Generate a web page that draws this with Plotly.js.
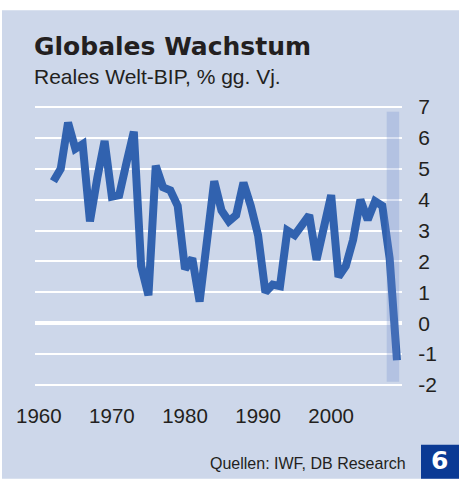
<!DOCTYPE html>
<html>
<head>
<meta charset="utf-8">
<script src="https://cdn.plot.ly/plotly-3.0.1.min.js"></script>
<style>
html,body{margin:0;padding:0;background:#fff;}
#chart{width:459px;height:479px;}
</style>
</head>
<body>
<div id="chart"></div>
<script>
// Data
const years = [1962,1963,1964,1965,1966,1967,1968,1969,1970,1971,1972,1973,1974,1975,1976,1977,1978,1979,1980,1981,1982,1983,1984,1985,1986,1987,1988,1989,1990,1991,1992,1993,1994,1995,1996,1997,1998,1999,2000,2001,2002,2003,2004,2005,2006,2007,2008,2009];
const growth = [4.6,5.0,6.5,5.65,5.8,3.3,4.7,5.9,4.1,4.15,5.2,6.2,1.85,0.9,5.1,4.4,4.3,3.8,1.75,2.1,0.7,2.7,4.6,3.65,3.3,3.5,4.55,3.8,2.85,1.0,1.25,1.2,3.0,2.85,3.2,3.5,2.05,3.1,4.15,1.5,1.85,2.7,4.0,3.35,3.95,3.8,2.1,-1.2];
const xTickVals = [1960,1970,1980,1990,2000];
const xTickText = ['1960','1970','1980','1990','2000'];
const yTickVals = [-2,-1,0,1,2,3,4,5,6,7];
const yTickText = ['-2','-1','0','1','2','3','4','5','6','7'];
const forecastBand = {start: 2007.6, end: 2009.3, low: -1.9, high: 6.85};

const titleText = 'Globales Wachstum';
const subtitleText = 'Reales Welt-BIP, % gg. Vj.';
const sourceText = 'Quellen: IWF, DB Research';
const chartNumber = '6';

// Layout geometry (pixels)
const W = 459, H = 479;
const L = 35, R = 402, T = 103.9, B = 388.1;
const pw = R - L, ph = B - T;
const px = v => (v - L) / pw;
const py = v => (B - v) / ph;

const panelColor = '#CDD7EA';
const lineColor = '#3162AF';
const textColor = '#231F20';
const font = 'Liberation Sans, Arial, sans-serif';

const trace = {
  x: years, y: growth, type: 'scatter', mode: 'lines',
  line: {color: lineColor, width: 8},
  hoverinfo: 'skip'
};

const layout = {
  width: W, height: H,
  margin: {l: L, r: W - R, t: T, b: H - B, pad: 0},
  paper_bgcolor: '#ffffff',
  plot_bgcolor: 'rgba(0,0,0,0)',
  showlegend: false,
  font: {family: font, color: textColor},
  xaxis: {
    range: [1959.48, 2009.69],
    tickvals: xTickVals, ticktext: xTickText,
    showgrid: false, zeroline: false, showline: false,
    ticks: 'outside', ticklen: 9, tickcolor: 'rgba(0,0,0,0)',
    tickfont: {size: 20.5, family: font, color: textColor},
    fixedrange: true
  },
  yaxis: {
    side: 'right',
    range: [-2.1, 7.1],
    tickvals: yTickVals, ticktext: yTickText,
    showgrid: true, gridcolor: '#ffffff', gridwidth: 2,
    zeroline: true, zerolinecolor: '#ffffff', zerolinewidth: 4,
    showline: false,
    ticks: 'outside', ticklen: 11, tickcolor: 'rgba(0,0,0,0)',
    tickfont: {size: 21, family: font, color: textColor},
    fixedrange: true
  },
  shapes: [
    {type: 'rect', xref: 'paper', yref: 'paper', layer: 'below',
     x0: px(2), x1: px(459), y0: py(10), y1: py(479),
     fillcolor: panelColor, line: {width: 0}},
    {type: 'rect', xref: 'x', yref: 'y', layer: 'above',
     x0: forecastBand.start, x1: forecastBand.end, y0: forecastBand.low, y1: forecastBand.high,
     fillcolor: 'rgba(110,140,205,0.28)', line: {width: 0}},
    {type: 'rect', xref: 'paper', yref: 'paper', layer: 'above',
     x0: px(421), x1: px(459), y0: py(445), y1: py(479),
     fillcolor: '#0B3A94', line: {width: 0}}
  ],
  annotations: [
    {text: titleText, xref: 'paper', yref: 'paper', x: px(32), y: py(46),
     xanchor: 'left', yanchor: 'middle', showarrow: false,
     font: {family: 'DejaVu Sans, sans-serif', size: 25, color: textColor, weight: 'bold'}},
    {text: subtitleText, xref: 'paper', yref: 'paper', x: px(32), y: py(76),
     xanchor: 'left', yanchor: 'middle', showarrow: false,
     font: {family: font, size: 21, color: textColor}},
    {text: sourceText, xref: 'paper', yref: 'paper', x: px(408), y: py(463.3),
     xanchor: 'right', yanchor: 'middle', showarrow: false,
     font: {family: font, size: 16, color: textColor}},
    {text: '<b>' + chartNumber + '</b>', xref: 'paper', yref: 'paper', x: px(439), y: py(461),
     xanchor: 'center', yanchor: 'middle', showarrow: false,
     font: {family: 'DejaVu Sans, sans-serif', size: 25, color: '#ffffff'}}
  ]
};

Plotly.newPlot('chart', [trace], layout, {staticPlot: true, displayModeBar: false});
</script>
</body>
</html>
